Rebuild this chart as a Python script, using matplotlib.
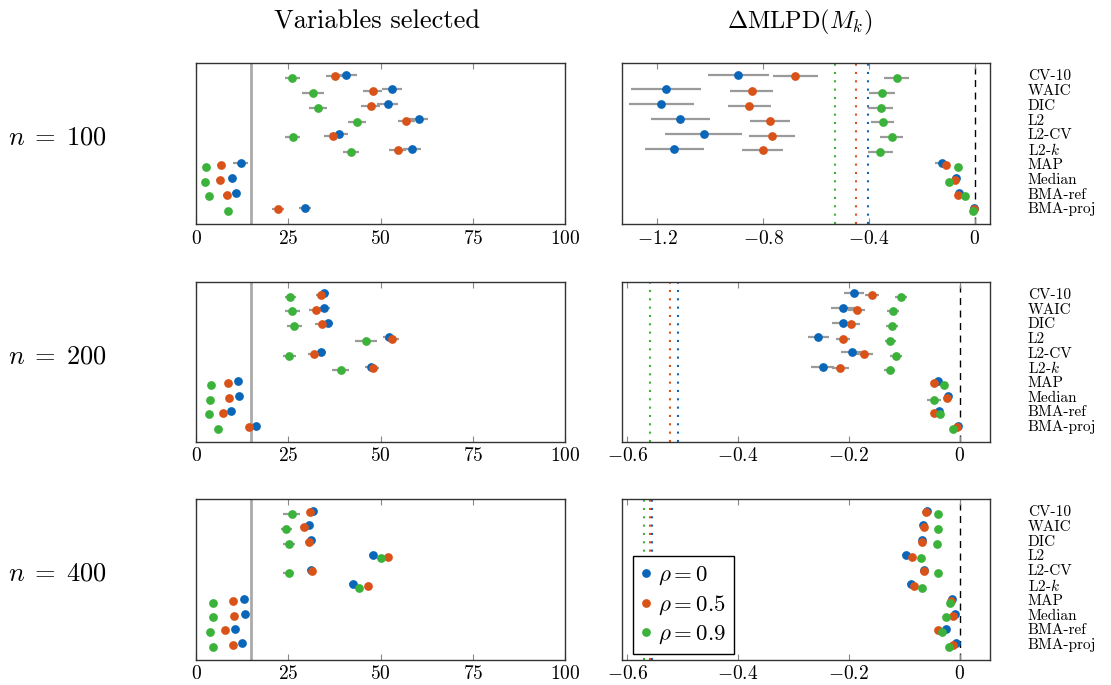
import numpy as np
import matplotlib
matplotlib.use("Agg")
import matplotlib.pyplot as plt
from matplotlib.ticker import FuncFormatter
from matplotlib.lines import Line2D
import matplotlib.transforms as mtransforms

plt.rcParams['font.family'] = ['cmr10', 'DejaVu Serif']
plt.rcParams['mathtext.fontset'] = 'cm'
plt.rcParams['axes.unicode_minus'] = False

methods = ['CV-10', 'WAIC', 'DIC', 'L2', 'L2-CV', r'L2-$k$', 'MAP', 'Median', 'BMA-ref', 'BMA-proj']
rho_labels = [r'$\rho = 0$', r'$\rho = 0.5$', r'$\rho = 0.9$']
sizes = [100, 200, 400]
colors = ['#0a66b8', '#d95319', '#3bb33b']

# variables selected, one list per rho (0, 0.5, 0.9)
vars_100 = [[40.6, 53.1, 51.9, 60.3, 38.8, 58.6, 12.1, 9.8, 10.8, 29.6],
            [37.8, 47.9, 47.3, 57.0, 37.1, 54.7, 6.7, 6.4, 8.4, 22.3],
            [26.1, 31.8, 33.0, 43.7, 26.2, 42.0, 2.7, 2.4, 3.5, 8.6]]
vars_100_err = [[3.0, 2.8, 2.8, 2.5, 2.5, 2.5, 2.0, 1.0, 1.0, 1.7],
                [2.5, 2.6, 2.6, 2.3, 2.5, 2.3, 1.0, 1.0, 1.0, 1.6],
                [2.0, 3.0, 2.5, 2.5, 2.0, 2.2, 0.8, 0.8, 0.8, 0.8]]
vars_200 = [[34.8, 34.7, 35.7, 52.2, 34.0, 47.4, 11.4, 11.6, 9.6, 16.3],
            [34.0, 32.5, 34.1, 53.1, 32.0, 48.0, 8.6, 8.9, 7.2, 14.4],
            [25.5, 26.1, 26.6, 46.0, 25.3, 39.2, 4.0, 3.7, 3.6, 6.0]]
vars_200_err = [[1.3, 1.5, 1.5, 1.5, 1.3, 1.5, 0.5, 0.5, 0.5, 0.8],
                [1.5, 2.0, 1.8, 1.8, 1.7, 1.5, 0.5, 0.5, 0.5, 0.8],
                [1.5, 2.0, 2.0, 3.0, 1.8, 2.3, 0.5, 0.5, 0.5, 0.5]]
vars_400 = [[31.6, 30.5, 31.3, 47.9, 31.1, 42.5, 12.9, 13.4, 10.6, 12.6],
            [31.0, 29.2, 30.6, 52.0, 31.4, 46.7, 10.0, 10.2, 7.9, 10.0],
            [25.9, 24.4, 25.2, 50.1, 25.1, 44.2, 4.6, 4.7, 3.9, 4.6]]
vars_400_err = [[1.0, 1.0, 1.0, 1.0, 1.0, 1.0, 0.3, 0.3, 0.3, 0.3],
                [1.0, 1.0, 1.0, 1.2, 1.0, 1.0, 0.3, 0.3, 0.3, 0.3],
                [2.3, 1.5, 1.5, 1.0, 1.4, 1.0, 0.3, 0.3, 0.3, 0.3]]

# delta MLPD, one list per rho
mlpd_100 = [[-0.893, -1.166, -1.184, -1.113, -1.025, -1.135, -0.126, -0.073, -0.060, -0.004],
            [-0.678, -0.843, -0.852, -0.775, -0.766, -0.801, -0.111, -0.075, -0.063, -0.004],
            [-0.296, -0.352, -0.356, -0.349, -0.315, -0.357, -0.062, -0.097, -0.038, -0.008]]
mlpd_100_err = [[0.116, 0.132, 0.123, 0.111, 0.145, 0.111, 0.025, 0.015, 0.008, 0.003],
                [0.085, 0.081, 0.081, 0.075, 0.086, 0.078, 0.015, 0.012, 0.008, 0.003],
                [0.048, 0.049, 0.046, 0.045, 0.044, 0.046, 0.010, 0.012, 0.008, 0.003]]
mlpd_200 = [[-0.190, -0.210, -0.210, -0.255, -0.195, -0.247, -0.038, -0.021, -0.037, -0.002],
            [-0.158, -0.186, -0.196, -0.210, -0.172, -0.215, -0.046, -0.023, -0.046, -0.004],
            [-0.106, -0.120, -0.122, -0.125, -0.115, -0.126, -0.028, -0.046, -0.035, -0.011]]
mlpd_200_err = [[0.018, 0.022, 0.020, 0.019, 0.019, 0.021, 0.006, 0.006, 0.006, 0.002],
                [0.012, 0.016, 0.016, 0.013, 0.015, 0.016, 0.006, 0.006, 0.006, 0.002],
                [0.011, 0.011, 0.010, 0.010, 0.011, 0.010, 0.006, 0.013, 0.006, 0.003]]
mlpd_400 = [[-0.059, -0.066, -0.068, -0.096, -0.064, -0.087, -0.014, -0.008, -0.024, -0.007],
            [-0.061, -0.065, -0.068, -0.086, -0.065, -0.083, -0.015, -0.011, -0.038, -0.011],
            [-0.038, -0.039, -0.040, -0.070, -0.039, -0.067, -0.018, -0.025, -0.032, -0.019]]
mlpd_400_err = [[0.006, 0.006, 0.006, 0.007, 0.006, 0.007, 0.003, 0.003, 0.003, 0.002],
                [0.006, 0.006, 0.006, 0.007, 0.006, 0.007, 0.003, 0.003, 0.003, 0.002],
                [0.004, 0.004, 0.004, 0.005, 0.004, 0.005, 0.003, 0.003, 0.003, 0.002]]

# reference lines (dotted) per rho
ref_mlpd = {100: [-0.405, -0.449, -0.528],
            200: [-0.508, -0.5225, -0.5586],
            400: [-0.5555, -0.559, -0.569]}
true_vars = 15

var_data = {100: (vars_100, vars_100_err), 200: (vars_200, vars_200_err), 400: (vars_400, vars_400_err)}
mlpd_data = {100: (mlpd_100, mlpd_100_err), 200: (mlpd_200, mlpd_200_err), 400: (mlpd_400, mlpd_400_err)}

W, H = 1111, 685
fig = plt.figure(figsize=(W / 100, H / 100), dpi=100)

row_px = [(63, 224), (281.7, 441.7), (499, 659.7)]
left_px = (196, 565)
right_px = (621.7, 990)
right_xlim = {100: (-1.334, 0.057), 200: (-0.610, 0.055), 400: (-0.610, 0.055)}
right_ticks = {100: [-1.2, -0.8, -0.4, 0], 200: [-0.6, -0.4, -0.2, 0], 400: [-0.6, -0.4, -0.2, 0]}
offsets = [-0.12, 0.0, 0.12]
ypos = np.arange(len(methods))
MS = 6.3


def fmt(x, pos):
    if abs(x) < 1e-9:
        return r'$0$'
    return r'$%g$' % x


def style_axes(ax):
    for s in ax.spines.values():
        s.set_linewidth(1.0)
        s.set_color('#333333')
    ax.set_yticks([])
    ax.tick_params(axis='x', direction='in', top=True, length=4, width=0.8,
                   color='#888888', labelsize=14, pad=4)
    ax.xaxis.set_major_formatter(FuncFormatter(fmt))
    ax.set_ylim(9.98, -0.9)


def draw_points(ax, vals, errs):
    for k in range(3):
        y = ypos + offsets[k]
        ax.hlines(y, np.array(vals[k]) - np.array(errs[k]), np.array(vals[k]) + np.array(errs[k]),
                  color='#9a9a9a', lw=1.6, zorder=2)
    for k in range(3):
        ax.plot(vals[k], ypos + offsets[k], 'o', color=colors[k], ms=MS, mec='none', zorder=3 + k)


for i, n in enumerate(sizes):
    top, bot = row_px[i]
    y0 = 1 - bot / H
    h = (bot - top) / H

    axl = fig.add_axes([left_px[0] / W, y0, (left_px[1] - left_px[0]) / W, h])
    style_axes(axl)
    axl.set_xlim(0, 100)
    axl.set_xticks([0, 25, 50, 75, 100])
    axl.axvline(true_vars, color='#aaaaaa', lw=2.0, zorder=1)
    vals, errs = var_data[n]
    draw_points(axl, vals, errs)

    axr = fig.add_axes([right_px[0] / W, y0, (right_px[1] - right_px[0]) / W, h])
    style_axes(axr)
    axr.set_xlim(*right_xlim[n])
    axr.set_xticks(right_ticks[n])
    axr.axvline(0, color='black', lw=1.0, ls=(0, (5, 4)), zorder=1)
    for k in range(3):
        axr.axvline(ref_mlpd[n][k], color=colors[k], lw=1.5, ls=(0, (1, 3)), zorder=1)
    vals, errs = mlpd_data[n]
    draw_points(axr, vals, errs)

    trans = mtransforms.blended_transform_factory(axr.transAxes, axr.transData)
    for j, m in enumerate(methods):
        axr.text(1.103, j, m, transform=trans, fontsize=11, ha='left', va='center')

    fig.text(8 / W, 1 - (top + bot) / 2 / H + 0.008, r'$n\;=\;%d$' % n, fontsize=19,
             ha='left', va='center')

    if n == 400:
        handles = [Line2D([], [], ls='none', marker='o', ms=MS, color=c, mec='none') for c in colors]
        leg = axr.legend(handles, rho_labels, loc='lower left', bbox_to_anchor=(0.03, 0.035),
                         borderaxespad=0, fontsize=16.5, handlelength=0.5, handletextpad=0.25,
                         labelspacing=0.28, borderpad=0.35, fancybox=False, framealpha=1)
        leg.get_frame().set_edgecolor('black')
        leg.get_frame().set_linewidth(1.0)

fig.text((left_px[0] + left_px[1]) / 2 / W - 0.003, 1 - 22 / H, 'Variables selected', fontsize=19,
         ha='center', va='center')
fig.text((right_px[0] + right_px[1]) / 2 / W - 0.006, 1 - 22 / H, r'$\Delta\mathrm{MLPD}(M_k)$',
         fontsize=17.5, ha='center', va='center')

fig.savefig('out.png', dpi=100)
